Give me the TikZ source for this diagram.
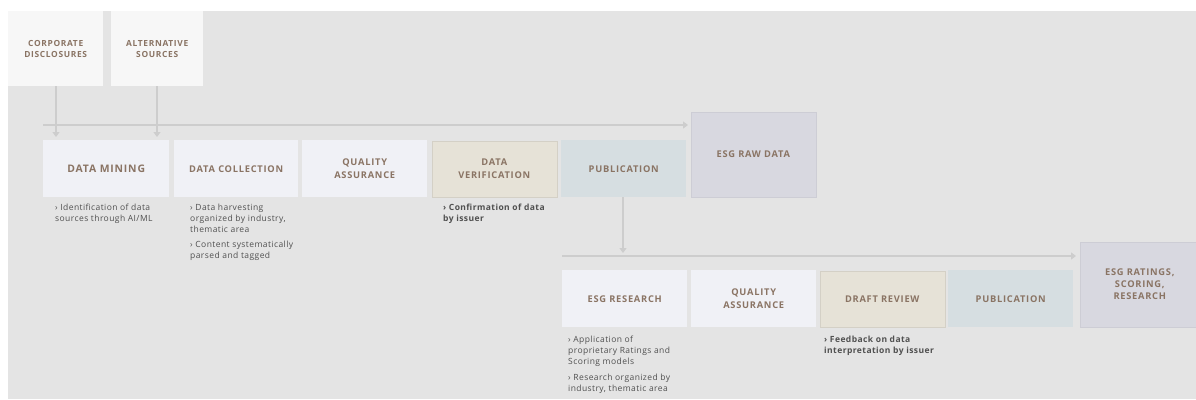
\documentclass[tikz,border=0pt]{standalone}
\usepackage{fontspec}
\setmainfont{Open Sans}
\newfontfamily\ttlfont[LetterSpace=8]{Open Sans}
\newfontfamily\dscfont[LetterSpace=5]{Open Sans}
\usetikzlibrary{arrows.meta}
\definecolor{bgc}{HTML}{E4E4E4}
\definecolor{boxw}{HTML}{F0F1F6}
\definecolor{srcw}{HTML}{F7F7F7}
\definecolor{verc}{HTML}{E6E2D7}
\definecolor{pubc}{HTML}{D6DEE1}
\definecolor{rawc}{HTML}{D8D8E0}
\definecolor{ttlc}{HTML}{8A7464}
\definecolor{dscc}{HTML}{505050}
\definecolor{linec}{HTML}{CDCDCD}
\tikzset{
  stage/.style={anchor=north west, inner sep=0pt, minimum width=126pt, minimum height=57pt,
    align=center, text=ttlc, font=\ttlfont\bfseries\fontsize{9.3}{12.3}\selectfont},
  srcbox/.style={anchor=north west, inner sep=0pt, minimum height=75pt, fill=srcw,
    align=center, text=ttlc, font=\ttlfont\bfseries\fontsize{8.4}{10.7}\selectfont},
  desc/.style={anchor=north west, inner sep=0pt, align=left, text=dscc,
    font=\dscfont\fontsize{8.5}{11}\selectfont},
  descb/.style={desc, font=\dscfont\bfseries\fontsize{8.5}{11}\selectfont},
  conn/.style={draw=linec, line width=1.2pt, -{Triangle[width=7pt,length=5pt]}}
}
\begin{document}
\begin{tikzpicture}[x=1pt,y=-1pt]
\fill[white] (0,0) rectangle (1196,399);
\fill[bgc] (8,11) rectangle (1196,399);
\useasboundingbox (0,0) rectangle (1196,399);

% sources
\node[srcbox, minimum width=95pt] (corp) at (8,11) {CORPORATE\\DISCLOSURES};
\node[srcbox, minimum width=92pt] (alt) at (111,11) {ALTERNATIVE\\SOURCES};

% row 1
\node[stage, fill=boxw, font=\ttlfont\bfseries\fontsize{10.4}{12.3}\selectfont] (mining) at (43,140) {DATA MINING};
\node[stage, fill=boxw, minimum width=124pt] (collect) at (174,140) {DATA COLLECTION};
\node[stage, fill=boxw, minimum width=125pt] (qa1) at (302,140) {QUALITY\\ASSURANCE};
\node[stage, fill=verc, draw=verc!92!black, line width=0.5pt, minimum width=125pt, minimum height=56pt] (verif) at (431.5,140.5) {DATA\\VERIFICATION};
\node[stage, fill=pubc, minimum width=125pt] (pub1) at (561,140) {PUBLICATION};
\node[stage, fill=rawc, draw=rawc!95!black, line width=0.5pt, minimum width=125pt, minimum height=85pt] (raw) at (690.5,111.5) {ESG RAW DATA};

% row 2
\node[stage, fill=boxw, minimum width=125pt] (research) at (562,270) {ESG RESEARCH};
\node[stage, fill=boxw, minimum width=125pt] (qa2) at (691,270) {QUALITY\\ASSURANCE};
\node[stage, fill=verc, draw=verc!92!black, line width=0.5pt, minimum width=125pt, minimum height=56pt] (draft) at (819.5,270.5) {DRAFT REVIEW};
\node[stage, fill=pubc, minimum width=125pt] (pub2) at (948,270) {PUBLICATION};
\node[stage, fill=rawc, draw=rawc!95!black, line width=0.5pt, minimum width=120pt, minimum height=85pt] (ratings) at (1079.5,241.5) {ESG RATINGS,\\SCORING,\\RESEARCH};

% descriptions
\node[desc] (d1) at (55,204) {› Identification of data\\sources through AI/ML};
\node[desc] (d2) at (190,204) {› Data harvesting\\organized by industry,\\thematic area};
\node[desc] (d3) at (190,241) {› Content systematically\\parsed and tagged};
\node[descb] (d4) at (443,204) {› Confirmation of data\\by issuer};
\node[desc] (d5) at (568,336) {› Application of\\proprietary Ratings and\\Scoring models};
\node[desc] (d6) at (568,374) {› Research organized by\\industry, thematic area};
\node[descb] (d7) at (824,336) {› Feedback on data\\interpretation by issuer};

% connectors row 1
\coordinate (h1start) at (43,125);
\coordinate (h1end) at (688,125);
\draw[conn] (h1start) -- (h1end);
\draw[conn] (corp.south -| 56,0) -- ([yshift=3pt]mining.north -| 56,0);
\draw[conn] (alt.south -| 157,0) -- ([yshift=3pt]mining.north -| 157,0);

% connectors row 2
\coordinate (h2start) at (562,256);
\coordinate (h2end) at (1076,256);
\draw[conn] (pub1.south -| 623,0) -- (623,253);
\draw[conn] (h2start) -- (h2end);
\end{tikzpicture}
\end{document}
